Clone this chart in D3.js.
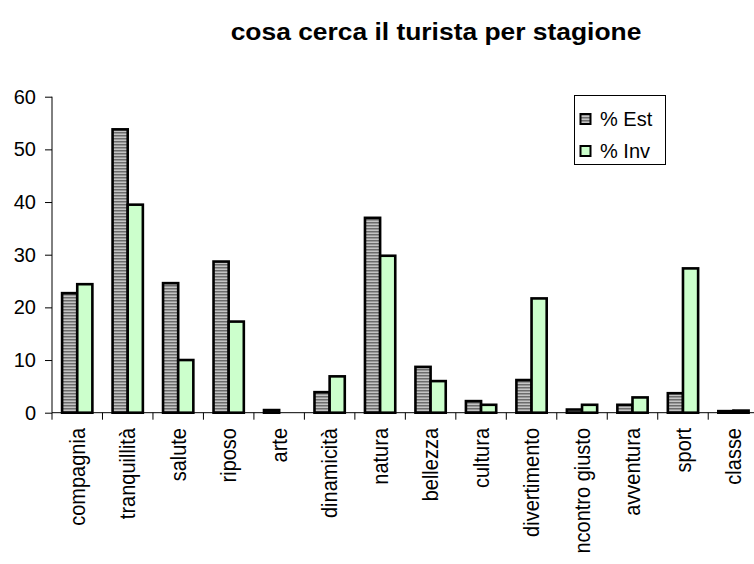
<!DOCTYPE html>
<html>
<head>
<meta charset="utf-8">
<script src="https://cdn.jsdelivr.net/npm/d3@7"></script>
<style>
  html, body { margin: 0; padding: 0; background: #fff; }
  svg { display: block; font-family: "Liberation Sans", Arial, sans-serif; }
</style>
</head>
<body>
<svg id="chart" width="754" height="564"></svg>
<script>
// Reasons tourists give, by season (percentages)
const categories = ["compagnia", "tranquillità", "salute", "riposo", "arte", "dinamicità",
  "natura", "bellezza", "cultura", "divertimento", "incontro giusto", "avventura", "sport", "classe"];
const seriesNames = ["% Est", "% Inv"];
const estValues = [22.7, 53.8, 24.6, 28.7, 0.5, 3.9, 37.0, 8.7, 2.2, 6.2, 0.6, 1.5, 3.7, 0.3];
const invValues = [24.4, 39.5, 10.0, 17.3, 0, 6.9, 29.8, 6.0, 1.5, 21.7, 1.5, 2.9, 27.4, 0.4];
const yTicks = [0, 10, 20, 30, 40, 50, 60];
const title = "cosa cerca il turista per stagione";

const svg = d3.select("#chart");
const W = 754, H = 564;
svg.append("rect").attr("width", W).attr("height", H).attr("fill", "#fff");

// striped fill for the summer series
const defs = svg.append("defs");
const pat = defs.append("pattern")
  .attr("id", "stripes").attr("patternUnits", "userSpaceOnUse")
  .attr("width", 6).attr("height", 3);
pat.append("rect").attr("width", 6).attr("height", 3).attr("fill", "#c4c4c4");
pat.append("rect").attr("width", 6).attr("height", 1.5).attr("fill", "#6c6c6c");

// category labels are clipped at the bottom of the chart area
defs.append("clipPath").attr("id", "labelClip")
  .append("rect").attr("x", 0).attr("y", 414).attr("width", W).attr("height", 141);

const plotLeft = 52, plotRight = 758.7, plotTop = 96.7, plotBottom = 412.7;

const x0 = d3.scaleBand().domain(categories).range([plotLeft, plotRight]).padding(0);
const x1 = d3.scaleBand().domain(seriesNames)
  .range([x0.bandwidth() * 0.2, x0.bandwidth() * 0.8]).padding(0);
const y = d3.scaleLinear().domain([0, 60]).range([plotBottom, plotTop]);

const fills = { "% Est": "url(#stripes)", "% Inv": "#ccffcc" };

// title (slightly wide lettering)
svg.append("text")
  .attr("transform", "translate(436,40) scale(1.1,1)")
  .attr("text-anchor", "middle")
  .attr("font-size", 24).attr("font-weight", "bold")
  .text(title);

// bars
const rows = categories.map((c, i) => ({ cat: c, values: [estValues[i], invValues[i]] }));
const groups = svg.append("g").selectAll("g").data(rows).join("g")
  .attr("transform", d => `translate(${x0(d.cat)},0)`);
groups.selectAll("rect")
  .data(d => d.values.map((v, j) => ({ series: seriesNames[j], v })).filter(e => e.v > 0))
  .join("rect")
  .attr("x", d => x1(d.series))
  .attr("width", x1.bandwidth())
  .attr("y", d => y(d.v))
  .attr("height", d => y(0) - y(d.v))
  .attr("fill", d => fills[d.series])
  .attr("stroke", "#000")
  .attr("stroke-width", 2.6);

// y axis
const yAxis = d3.axisLeft(y).tickValues(yTicks).tickSize(7).tickPadding(9).tickFormat(d3.format("d"));
const yg = svg.append("g").attr("transform", `translate(${plotLeft},0)`).call(yAxis);
yg.select(".domain").attr("stroke", "#000").attr("d", `M0,${plotTop}H0V${plotBottom}`);
yg.selectAll(".tick line").attr("stroke", "#000");
yg.selectAll(".tick text").attr("font-size", 20).attr("fill", "#000")
  .attr("font-family", "'Liberation Sans', Arial, sans-serif");

// x axis: line with ticks at category boundaries
const xg = svg.append("g");
xg.append("line").attr("x1", plotLeft).attr("x2", plotRight).attr("y1", plotBottom).attr("y2", plotBottom)
  .attr("stroke", "#000");
const boundaries = categories.map(c => x0(c)).concat([plotRight]);
xg.selectAll("line.tk").data(boundaries).join("line").attr("class", "tk")
  .attr("x1", d => d).attr("x2", d => d)
  .attr("y1", plotBottom).attr("y2", plotBottom + 7).attr("stroke", "#000");

// rotated category labels
const lg = svg.append("g").attr("clip-path", "url(#labelClip)");
lg.selectAll("text").data(categories).join("text")
  .attr("transform", d => `translate(${x0(d) + x0.bandwidth() / 2},428) scale(1.1,1) rotate(-90)`)
  .attr("text-anchor", "end")
  .attr("dy", "0.35em")
  .attr("font-size", 20)
  .text(d => d);

// legend
const leg = svg.append("g");
leg.append("rect").attr("x", 574.5).attr("y", 95.5).attr("width", 91).attr("height", 69)
  .attr("fill", "#fff").attr("stroke", "#000").attr("stroke-width", 1);
const legY = [119, 151];
seriesNames.forEach((s, i) => {
  leg.append("rect").attr("x", 580.5).attr("y", legY[i] - 5).attr("width", 10).attr("height", 10)
    .attr("fill", fills[s]).attr("stroke", "#000").attr("stroke-width", 2);
  leg.append("text").attr("x", 600).attr("y", legY[i]).attr("dy", "0.35em")
    .attr("font-size", 20).text(s);
});
</script>
</body>
</html>
